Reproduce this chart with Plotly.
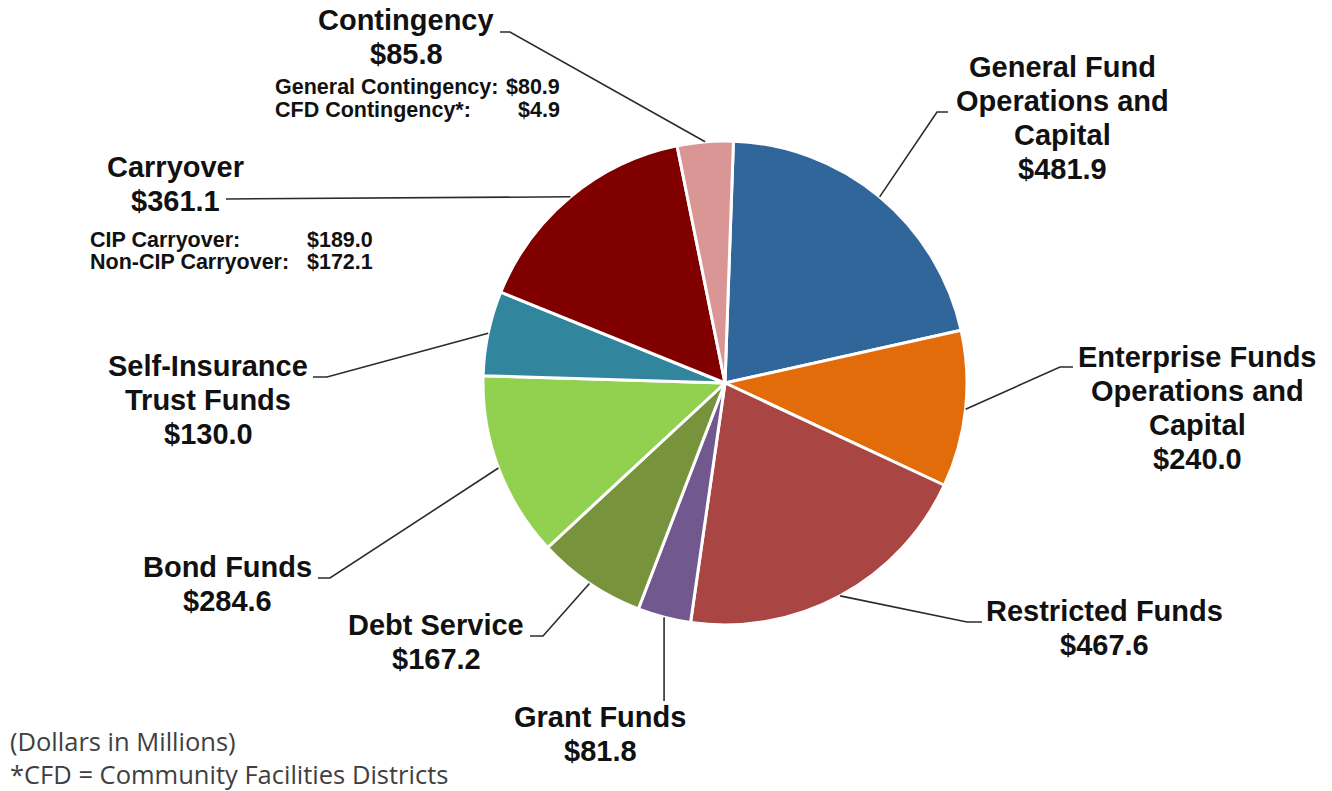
import math
import plotly.graph_objects as go

# ---- data -------------------------------------------------------------
categories = [
    "General Fund Operations and Capital",
    "Enterprise Funds Operations and Capital",
    "Restricted Funds",
    "Grant Funds",
    "Debt Service",
    "Bond Funds",
    "Self-Insurance Trust Funds",
    "Carryover",
    "Contingency",
]
amounts = [481.9, 240.0, 467.6, 81.8, 167.2, 284.6, 130.0, 361.1, 85.8]

label_lines = [
    ["General Fund", "Operations and", "Capital"],
    ["Enterprise Funds", "Operations and", "Capital"],
    ["Restricted Funds"],
    ["Grant Funds"],
    ["Debt Service"],
    ["Bond Funds"],
    ["Self-Insurance", "Trust Funds"],
    ["Carryover"],
    ["Contingency"],
]

contingency_parts = ["General Contingency:", "CFD Contingency*:"]
contingency_values = [80.9, 4.9]
carryover_parts = ["CIP Carryover:", "Non-CIP Carryover:"]
carryover_values = [189.0, 172.1]

footnotes = ["(Dollars in Millions)", "*CFD = Community Facilities Districts"]

# ---- styles -----------------------------------------------------------
colors = ["#31669A", "#E36C0A", "#A94542", "#71598F", "#77933C",
          "#92D050", "#31859C", "#800000", "#D99694"]

W, H = 1332, 791
CX, CY, R = 725, 383, 242
ROT = 2
LABEL_FONT = dict(family="Liberation Sans, Arial", size=29, color="#111111", weight="bold")
SUB_FONT = dict(family="Liberation Sans, Arial", size=21.5, color="#111111", weight="bold")
NOTE_FONT = dict(family="Open Sans", size=25.5, color="#404040")
LINE_GAP = 34
SUB_GAP = 22.5

# label placement: centre x, first-line y, leader-line points after the slice edge
placement = [
    dict(cx=1062, y0=67, path=[(937, 112), (948, 112)]),
    dict(cx=1197, y0=357, path=[(1060, 367), (1073, 367)]),
    dict(cx=1104, y0=611, path=[(967, 622), (982, 622)]),
    dict(cx=600, y0=717, path=[(None, 701)]),
    dict(cx=436, y0=625, path=[(543, 636), (530, 636)]),
    dict(cx=227, y0=567, path=[(330, 578), (318, 578)]),
    dict(cx=208, y0=366, path=[(327, 377), (313, 377)]),
    dict(cx=175, y0=167, path=[(226, 199)]),
    dict(cx=406, y0=20, path=[(510, 32), (500, 32)]),
]
breakdowns = [
    dict(parts=contingency_parts, values=contingency_values, left=273, right=562, y0=87),
    dict(parts=carryover_parts, values=carryover_values, left=88, right=375, y0=240),
]


def px(x):
    return x / W


def py(y):
    return 1 - y / H


fig = go.Figure(go.Pie(
    labels=categories,
    values=amounts,
    sort=False,
    direction="clockwise",
    rotation=ROT,
    marker=dict(colors=colors, line=dict(color="white", width=3)),
    textinfo="none",
    hoverinfo="label+value",
    showlegend=False,
    domain=dict(x=[px(CX - R), px(CX + R)], y=[py(CY + R), py(CY - R)]),
))

annotations = []
shapes = []
total = sum(amounts)
cum = 0.0
for name, val, lines, place in zip(categories, amounts, label_lines, placement):
    mid = math.radians(ROT + 360.0 * (cum + val / 2) / total)
    cum += val
    sx = CX + R * math.sin(mid)
    sy = CY - R * math.cos(mid)

    pts = [(sx, sy)] + [(sx if x is None else x, y) for x, y in place["path"]]
    d = "M " + " L ".join(f"{px(x):.5f},{py(y):.5f}" for x, y in pts)
    shapes.append(dict(type="path", path=d, xref="paper", yref="paper",
                       line=dict(color="#2b2b2b", width=1.6)))

    for i, txt in enumerate(lines + [f"${val:.1f}"]):
        annotations.append(dict(
            text=txt, x=px(place["cx"]), y=py(place["y0"] + i * LINE_GAP),
            xref="paper", yref="paper", xanchor="center", yanchor="middle",
            showarrow=False, font=LABEL_FONT,
        ))

for b in breakdowns:
    for i, (part, v) in enumerate(zip(b["parts"], b["values"])):
        y = py(b["y0"] + i * SUB_GAP)
        annotations.append(dict(text=part, x=px(b["left"]), y=y, xref="paper", yref="paper",
                                xanchor="left", yanchor="middle", showarrow=False, font=SUB_FONT))
        annotations.append(dict(text=f"${v:.1f}", x=px(b["right"]), y=y, xref="paper", yref="paper",
                                xanchor="right", yanchor="middle", showarrow=False, font=SUB_FONT))

# footnotes as one left-aligned block
annotations.append(dict(text="<br>".join(footnotes), x=px(8), y=py(757), xref="paper", yref="paper",
                        xanchor="left", yanchor="middle", align="left", showarrow=False,
                        font=NOTE_FONT))

fig.update_layout(
    width=W, height=H,
    margin=dict(l=0, r=0, t=0, b=0),
    paper_bgcolor="white", plot_bgcolor="white",
    annotations=annotations, shapes=shapes,
)

fig.write_html("out.html")
